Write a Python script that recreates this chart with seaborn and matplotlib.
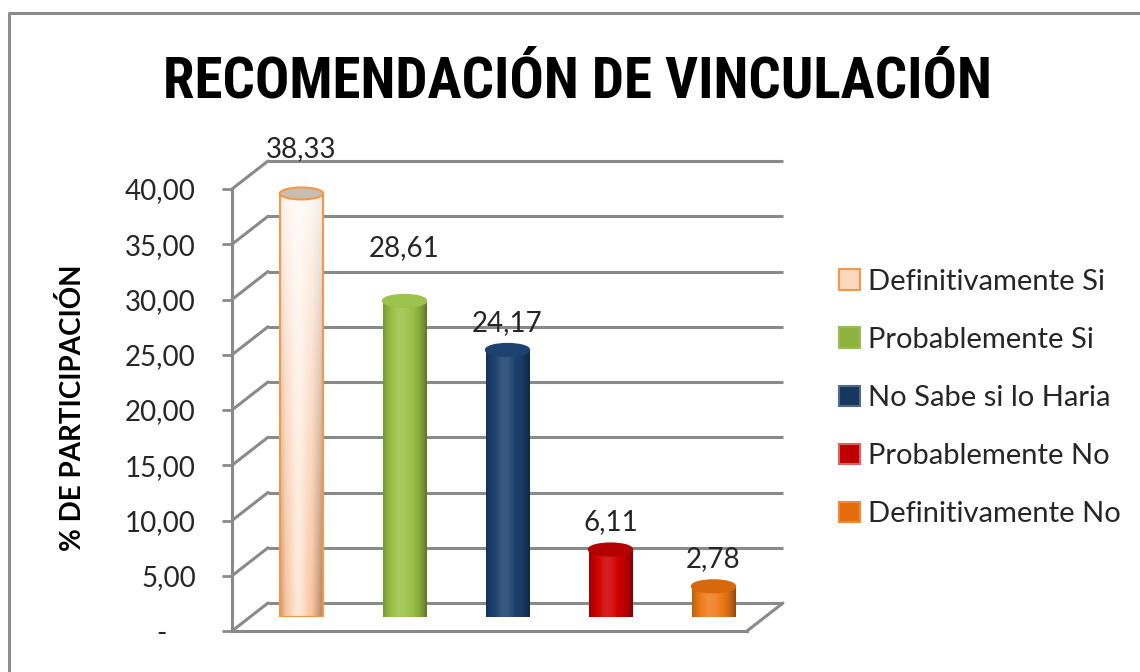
import matplotlib
matplotlib.use("Agg")
import numpy as np
import pandas as pd
import seaborn as sns
import matplotlib.pyplot as plt
from matplotlib.patches import Ellipse, Patch
from matplotlib.lines import Line2D
from matplotlib.colors import to_rgb
from matplotlib import font_manager

# ---------------- data ----------------
categories = ["Definitivamente Si", "Probablemente Si", "No Sabe si lo Haria",
              "Probablemente No", "Definitivamente No"]
values = [38.33, 28.61, 24.17, 6.11, 2.78]
value_labels = ["38,33", "28,61", "24,17", "6,11", "2,78"]
tick_values = [0, 5, 10, 15, 20, 25, 30, 35, 40]
tick_labels = ["-    ", "5,00", "10,00", "15,00", "20,00", "25,00", "30,00", "35,00", "40,00"]
title_text = "RECOMENDACIÓN DE VINCULACIÓN"
ylabel_text = "% DE PARTICIPACIÓN"

# ---------------- styles ----------------
body_colors = ["#F9C49C", "#98C043", "#1C416E", "#D00000", "#EE7A18"]
top_colors = ["#C9BDB2", "#9CC34C", "#1E4270", "#B40000", "#D8680C"]
edge_colors = ["#F79646", "none", "none", "none", "none"]
highlight = [0.6, 0.15, 0.12, 0.12, 0.15]
legend_face = ["#FCD9BC", "#8DB33E", "#17375E", "#C00000", "#E46C0A"]
legend_edge = ["#F79646", "#9BBB59", "#4F6A8F", "#E06060", "#F08A3A"]
top_white_mix = [0.85, 0.0, 0.0, 0.0, 0.0]
label_dy_px = [44, 53, 27, 27, 27]
grid_gray = "#8A8A8A"

sns.set_theme(style="white")
plt.rcParams['font.family'] = ['Lato', 'DejaVu Sans']

installed = {f.name for f in font_manager.fontManager.ttflist}
title_family = "Lato"
for cand in ["Liberation Sans Narrow", "Roboto Condensed", "Open Sans Condensed",
             "Noto Sans Condensed", "Lato"]:
    if cand in installed:
        title_family = cand
        break

W, H = 1140, 672
fig = plt.figure(figsize=(W / 100, H / 100), dpi=100)
fig.patch.set_facecolor("white")


def add_ax(left, y_bottom, right, y_top):
    return fig.add_axes([left / W, 1 - y_bottom / H, (right - left) / W, (y_bottom - y_top) / H])


FX0, FX1, FY0, FY40 = 232, 747, 631, 189
DX, DY = 36, 28
ax_back = add_ax(FX0 + DX, FY0 - DY, FX1 + DX, FY40 - DY)
ax_mid = add_ax(FX0 + DX / 2, FY0 - DY / 2, FX1 + DX / 2, FY40 - DY / 2)
ax_front = add_ax(FX0, FY0, FX1, FY40)

XL, YL = (-0.5, 4.5), (0, 40)
for a in (ax_back, ax_mid, ax_front):
    a.set_xlim(*XL)
    a.set_ylim(*YL)
    a.patch.set_alpha(0)

# back wall gridlines
ax_back.hlines(tick_values, XL[0], XL[1], colors=grid_gray, lw=2.2, clip_on=False)
ax_back.axis("off")

# bars (mid depth plane)
df = pd.DataFrame({"categoria": categories, "valor": values})
sns.barplot(data=df, x="categoria", y="valor", hue="categoria", palette=body_colors,
            width=0.42, saturation=1, ax=ax_mid, legend=False)

ell_h = 12 * (YL[1] - YL[0]) / (FY0 - FY40)
patches = sorted(ax_mid.patches, key=lambda p: p.get_x())
t = np.linspace(0, 1, 200)
for i, p in enumerate(patches):
    x0, w, h = p.get_x(), p.get_width(), p.get_height()
    cx = x0 + w / 2
    base = np.array(to_rgb(body_colors[i]))
    k = highlight[i] * np.exp(-((t - 0.42) / 0.2) ** 2) - 0.4 * (np.abs(t - 0.45) / 0.55) ** 3
    row = np.where(k[:, None] >= 0, base + (1 - base) * k[:, None], base * (1 + k[:, None]))
    rows = 60
    fade = np.linspace(top_white_mix[i], 0, rows)[:, None, None]
    img = np.clip(row[None, :, :] * (1 - fade) + fade * 1.0, 0, 1)
    im = ax_mid.imshow(img, extent=(x0, x0 + w, 0, h), aspect="auto", zorder=2,
                       interpolation="bilinear", origin="upper")
    im.set_clip_path(p)
    # bottom cap
    ax_mid.add_patch(Ellipse((cx, 0), w, ell_h, facecolor=base * 0.8,
                             edgecolor=edge_colors[i], lw=1.5, zorder=1.9))
    p.set_facecolor("none")
    p.set_edgecolor(edge_colors[i])
    p.set_linewidth(1.5)
    p.set_zorder(3)
    # top cap
    ax_mid.add_patch(Ellipse((cx, h), w, ell_h, facecolor=top_colors[i],
                             edgecolor=edge_colors[i] if edge_colors[i] != "none" else top_colors[i],
                             lw=1.5, zorder=4))
    ax_mid.annotate(value_labels[i], (cx, h), xytext=(0, label_dy_px[i] * 0.72),
                    textcoords="offset points", ha="center", va="center",
                    fontsize=20, color="#262626", zorder=5)

ax_mid.set_xlim(*XL)
ax_mid.set_ylim(*YL)
ax_mid.axis("off")

# front plane: value axis and floor edge
for s in ("top", "right"):
    ax_front.spines[s].set_visible(False)
for s in ("left", "bottom"):
    ax_front.spines[s].set_color(grid_gray)
    ax_front.spines[s].set_linewidth(2.2)
ax_front.set_yticks(tick_values)
ax_front.set_yticklabels(tick_labels, fontsize=20, color="#262626")
ax_front.set_xticks([])
ax_front.tick_params(axis="y", left=True, length=7, width=2, color=grid_gray, pad=19)
ax_front.set_xlabel("")
ax_front.set_ylabel("")

# perspective lines connecting front and back planes
to_fig = fig.transFigure.inverted()
for v in tick_values:
    p0 = to_fig.transform(ax_front.transData.transform((XL[0], v)))
    p1 = to_fig.transform(ax_back.transData.transform((XL[0], v)))
    fig.add_artist(Line2D([p0[0], p1[0]], [p0[1], p1[1]], color=grid_gray, lw=2.2))
p0 = to_fig.transform(ax_front.transData.transform((XL[1], 0)))
p1 = to_fig.transform(ax_back.transData.transform((XL[1], 0)))
fig.add_artist(Line2D([p0[0], p1[0]], [p0[1], p1[1]], color=grid_gray, lw=2.2))

# titles
title = fig.text(577 / W, 1 - 97 / H, title_text, ha="center", va="baseline",
                 fontsize=44, fontweight="bold", color="black",
                 family=[title_family, "DejaVu Sans"])
fig.canvas.draw()
tw = title.get_window_extent().width
title.set_fontsize(min(44 * 855 / tw, 41))

fig.text(73 / W, 1 - 408 / H, ylabel_text, ha="center", va="center", rotation=90,
         fontsize=20, fontweight="bold", color="black")

# legend
handles = [Patch(facecolor=legend_face[i], edgecolor=legend_edge[i], lw=1.5)
           for i in range(len(categories))]
fig.legend(handles, categories, loc="center left", bbox_to_anchor=(813 / W, 1 - 398 / H),
           frameon=False, fontsize=21, handlelength=0.7, handleheight=0.7,
           handletextpad=0.3, labelspacing=1.1, labelcolor="#262626")

# outer chart border
fig.add_artist(Line2D([9 / W, 9 / W, 1.0], [0.0, 1 - 13 / H, 1 - 13 / H],
                      color="#8C8C8C", lw=2.2))

fig.savefig("out.png", dpi=100, facecolor="white")
